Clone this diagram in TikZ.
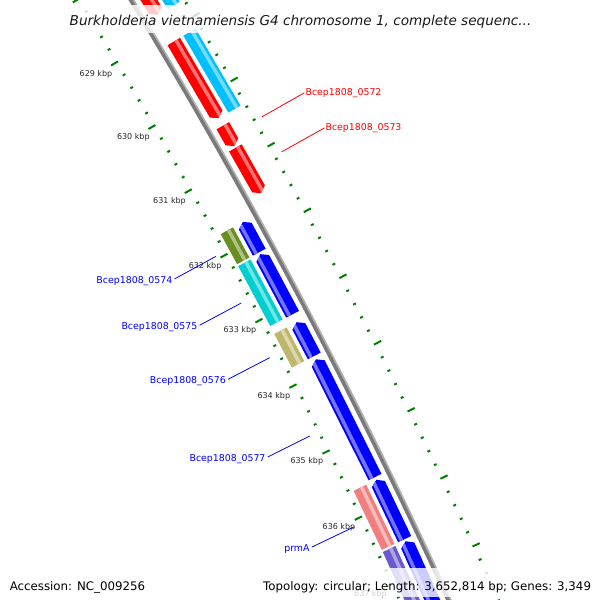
\documentclass[tikz,border=0pt]{standalone}
\usepackage{fontspec}
\setmainfont{DejaVu Sans}
\definecolor{gred}{RGB}{255,0,0}
\definecolor{gcyan}{RGB}{0,191,255}
\definecolor{gblue}{RGB}{0,0,255}
\definecolor{golive}{RGB}{107,142,35}
\definecolor{gteal}{RGB}{0,206,209}
\definecolor{gkhaki}{RGB}{189,183,107}
\definecolor{gsalmon}{RGB}{240,128,128}
\definecolor{gpurple}{RGB}{106,90,205}
\definecolor{tickgreen}{RGB}{0,128,0}
\definecolor{bbdark}{RGB}{122,122,122}
\definecolor{bblight}{RGB}{176,176,176}
\newcommand{\K}[1]{30.05-0.741*(#1-630)}
\newcommand{\Kt}[1]{30.79-0.7345*(#1-629)}
\newcommand{\hd}{0.065}
\newcommand{\setring}[5]{\def\rin{#1}\def\rmid{#2}\def\rout{#3}\def\rha{#4}\def\rhb{#5}}
\newcommand{\band}[3]{\fill[#3!55!white] ({\K{#1}}:\rha pt) -- ({\K{#2}}:\rha pt) -- ({\K{#2}}:\rhb pt) -- ({\K{#1}}:\rhb pt) -- cycle;}
\newcommand{\fgene}[3]{%
 \fill[#3] ({\K{#1}}:\rin pt) -- ({\K{#2-\hd}}:\rin pt) -- ({\K{#2}}:\rmid pt) -- ({\K{#2-\hd}}:\rout pt) -- ({\K{#1}}:\rout pt) -- cycle;
 \begin{scope}
 \clip ({\K{#1}}:\rin pt) -- ({\K{#2-\hd}}:\rin pt) -- ({\K{#2}}:\rmid pt) -- ({\K{#2-\hd}}:\rout pt) -- ({\K{#1}}:\rout pt) -- cycle;
 \band{#1}{#2}{#3}
 \end{scope}}
\newcommand{\rgene}[3]{%
 \fill[#3] ({\K{#1}}:\rmid pt) -- ({\K{#1+\hd}}:\rin pt) -- ({\K{#2}}:\rin pt) -- ({\K{#2}}:\rout pt) -- ({\K{#1+\hd}}:\rout pt) -- cycle;
 \begin{scope}
 \clip ({\K{#1}}:\rmid pt) -- ({\K{#1+\hd}}:\rin pt) -- ({\K{#2}}:\rin pt) -- ({\K{#2}}:\rout pt) -- ({\K{#1+\hd}}:\rout pt) -- cycle;
 \band{#1}{#2}{#3}
 \end{scope}}
\newcommand{\bgene}[3]{%
 \fill[#3] ({\K{#1}}:\rin pt) -- ({\K{#2}}:\rin pt) -- ({\K{#2}}:\rout pt) -- ({\K{#1}}:\rout pt) -- cycle;
 \band{#1}{#2}{#3}}
\begin{document}
\begin{tikzpicture}[x=1pt,y=1pt,
  tickst/.style={line width=2pt, draw=tickgreen},
  kbplab/.style={font=\fontsize{8}{9}\selectfont, text=black!85, inner sep=0pt},
  redlab/.style={font=\fontsize{9.4}{11}\selectfont, text=gred, inner sep=0pt, anchor=west, xshift=1pt},
  bluelab/.style={font=\fontsize{9.4}{11}\selectfont, text=gblue, inner sep=0pt, anchor=east, xshift=-2pt, yshift=-1.8pt},
  redline/.style={draw=gred, line width=0.8pt},
  blueline/.style={draw=gblue, line width=0.8pt},
  veil/.style={fill=white, fill opacity=0.8},
]
\useasboundingbox (0,0) rectangle (600,-600);
\fill[white] (0,0) rectangle (600,-600);
\clip (0,0) rectangle (600,-600);
\begin{scope}[shift={(-4827,-3008)}]
 % tick rings
 \foreach \i in {3135,...,3192}{%
  \pgfmathsetmacro\kk{\i/5}%
  \pgfmathtruncatemacro\mj{mod(\i,5)==0 ? 1 : 0}%
  \ifnum\mj=1 \def\tl{8}\else\def\tl{3}\fi
  \pgfmathsetmacro\ria{5756.5-\tl}%
  \pgfmathsetmacro\roa{5843.5+\tl}%
  \draw[tickst] ({\Kt{\kk}}:5756.5pt) -- ({\Kt{\kk}}:\ria pt);
  \draw[tickst] ({\Kt{\kk}}:5843.5pt) -- ({\Kt{\kk}}:\roa pt);
 }
 \foreach \k in {629,...,637}{\node[kbplab] (kb\k) at ({\Kt{\k}}:5731pt) {\k\ kbp};}
 % backbone
 \draw[draw=bbdark, line width=4pt] ({\K{627}}:5799.2pt) arc[start angle={\K{627}}, end angle={\K{638.5}}, radius=5799.2pt];
 \draw[draw=bblight, line width=1.6pt] ({\K{627}}:5801.6pt) arc[start angle={\K{627}}, end angle={\K{638.5}}, radius=5801.6pt];
 % forward CDS ring
 \setring{5807.5}{5814.75}{5822}{5815.5}{5819}
 \fgene{627.0}{628.74}{gred}
 \fgene{629.155}{630.335}{gred}
 \fgene{630.45}{630.76}{gred}
 \fgene{630.79}{631.48}{gred}
 % forward COG ring
 \setring{5826}{5833}{5840}{5834}{5837.5}
 \bgene{627.0}{628.74}{gcyan}
 \bgene{629.155}{630.335}{gcyan}
 % reverse CDS ring
 \setring{5778}{5785.25}{5792.5}{5780}{5783.5}
 \rgene{631.70}{632.16}{gblue}
 \rgene{632.19}{633.10}{gblue}
 \rgene{633.22}{633.73}{gblue}
 \rgene{633.78}{635.54}{gblue}
 \rgene{635.58}{636.46}{gblue}
 \rgene{636.49}{639.0}{gblue}
 % reverse COG ring
 \setring{5760}{5767}{5774}{5767}{5770.5}
 \bgene{631.70}{632.16}{golive}
 \bgene{632.19}{633.10}{gteal}
 \bgene{633.22}{633.73}{gkhaki}
 \bgene{635.58}{636.46}{gsalmon}
 \bgene{636.49}{639.0}{gpurple}
 % labels
 \coordinate (a572) at ({\K{630.605}}:5853pt);
 \coordinate (b572) at ({\K{630.605}}:5902pt);
 \coordinate (a573) at ({\K{631.135}}:5853pt);
 \coordinate (b573) at ({\K{631.135}}:5902pt);
 \coordinate (a574) at ({\K{631.93}}:5745pt);
 \coordinate (b574) at ({\K{631.93}}:5698pt);
 \coordinate (a575) at ({\K{632.645}}:5745pt);
 \coordinate (b575) at ({\K{632.645}}:5698pt);
 \coordinate (a576) at ({\K{633.475}}:5745pt);
 \coordinate (b576) at ({\K{633.475}}:5698pt);
 \coordinate (a577) at ({\K{634.66}}:5745pt);
 \coordinate (b577) at ({\K{634.66}}:5698pt);
 \coordinate (aprm) at ({\K{636.02}}:5745pt);
 \coordinate (bprm) at ({\K{636.02}}:5698pt);
 \draw[redline] (a572) -- (b572);
 \draw[redline] (a573) -- (b573);
 \draw[blueline] (a574) -- (b574);
 \draw[blueline] (a575) -- (b575);
 \draw[blueline] (a576) -- (b576);
 \draw[blueline] (a577) -- (b577);
 \draw[blueline] (aprm) -- (bprm);
 \node[redlab] (t572) at (b572) {Bcep1808\_0572};
 \node[redlab] (t573) at (b573) {Bcep1808\_0573};
 \node[bluelab] (t574) at (b574) {Bcep1808\_0574};
 \node[bluelab] (t575) at (b575) {Bcep1808\_0575};
 \node[bluelab] (t576) at (b576) {Bcep1808\_0576};
 \node[bluelab] (t577) at (b577) {Bcep1808\_0577};
 \node[bluelab] (tprm) at (bprm) {prmA};
\end{scope}
% legends
\fill[veil] (65,-5) rectangle (535,-33);
\node[anchor=base, inner sep=0pt, font=\fontsize{13.6}{16}\selectfont\itshape, text=black!90] (title) at (300.5,-25.4) {Burkholderia vietnamiensis G4 chromosome 1, complete sequenc...};
\fill[veil] (258,-568) rectangle (596,-597);
\node[anchor=base east, inner sep=0pt, font=\fontsize{11.8}{14}\selectfont] (topo) at (591.2,-590.8) {Topology: circular; Length: 3,652,814 bp; Genes: 3,349};
\node[anchor=base west, inner sep=0pt, font=\fontsize{11.8}{14}\selectfont] (acc) at (9.6,-590.8) {Accession: NC\_009256};
\end{tikzpicture}
\end{document}
